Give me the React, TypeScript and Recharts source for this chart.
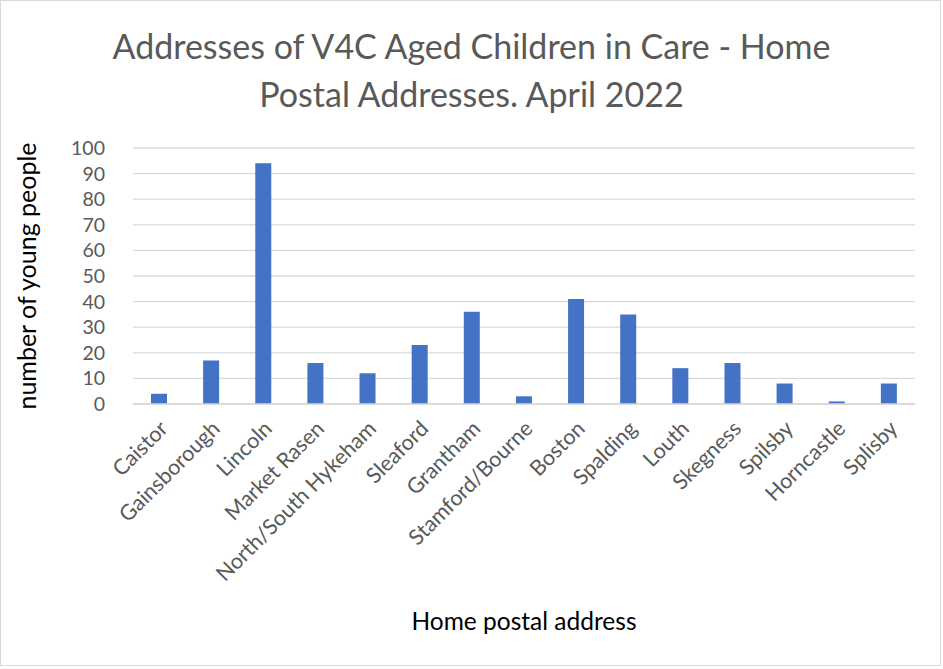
import { BarChart, Bar, XAxis, YAxis, CartesianGrid, Label } from 'recharts';

const towns = [
  'Caistor',
  'Gainsborough',
  'Lincoln',
  'Market Rasen',
  'North/South Hykeham',
  'Sleaford',
  'Grantham',
  'Stamford/Bourne',
  'Boston',
  'Spalding',
  'Louth',
  'Skegness',
  'Spilsby',
  'Horncastle',
  'Splisby',
];
const youngPeople = [4, 17, 94, 16, 12, 23, 36, 3, 41, 35, 14, 16, 8, 1, 8];
const yTicks = [0, 10, 20, 30, 40, 50, 60, 70, 80, 90, 100];

const titleLines = [
  'Addresses of V4C Aged Children in Care - Home',
  'Postal Addresses. April 2022',
];

const data = towns.map((town, i) => ({ town, count: youngPeople[i] }));

const FONT = 'Lato, "Open Sans", sans-serif';
const GREY = '#595959';

const TownTick = ({ x, y, payload }: any) => (
  <text
    x={x + 10}
    y={y + 18}
    transform={`rotate(-45, ${x + 10}, ${y + 18})`}
    textAnchor="end"
    fontSize={21.5}
    fontFamily={FONT}
    fill={GREY}
  >
    {payload.value}
  </text>
);

const App = () => {
  return (
    <div
      style={{
        position: 'absolute',
        left: 0,
        top: 0,
        width: 941,
        height: 666,
        border: '1px solid #d9d9d9',
        boxSizing: 'border-box',
        background: '#fff',
        fontFamily: FONT,
      }}
    >
      <div
        style={{
          position: 'absolute',
          left: -1,
          top: 21,
          width: 943,
          textAlign: 'center',
          fontSize: 34,
          lineHeight: '48px',
          color: GREY,
        }}
      >
        {titleLines.map((line) => (
          <div key={line}>{line}</div>
        ))}
      </div>
      <div style={{ position: 'absolute', left: -1, top: -1 }}>
        <BarChart
          width={943}
          height={669}
          data={data}
          margin={{ top: 148, right: 28, bottom: 0, left: 0 }}
        >
          <CartesianGrid vertical={false} stroke="#d9d9d9" strokeWidth={1.3} />
          <XAxis
            dataKey="town"
            interval={0}
            height={265}
            tick={<TownTick />}
            tickLine={false}
            axisLine={{ stroke: '#d9d9d9', strokeWidth: 1.3 }}
          >
            <Label
              value="Home postal address"
              position="insideBottom"
              offset={39}
              fontSize={24.5}
              fontFamily={FONT}
              fill="#000"
            />
          </XAxis>
          <YAxis
            width={133}
            domain={[0, 100]}
            ticks={yTicks}
            interval={0}
            tickLine={false}
            axisLine={false}
            tickMargin={22}
            tick={{ fontSize: 19.5, fontFamily: FONT, fill: GREY }}
          >
            <Label
              value="number of young people"
              angle={-90}
              position="insideLeft"
              offset={27}
              style={{ textAnchor: 'middle' }}
              fontSize={25}
              fontFamily={FONT}
              fill="#000"
            />
          </YAxis>
          <Bar
            dataKey="count"
            fill="#4472C4"
            barSize={16}
            isAnimationActive={false}
          />
        </BarChart>
      </div>
    </div>
  );
};

export default App;
